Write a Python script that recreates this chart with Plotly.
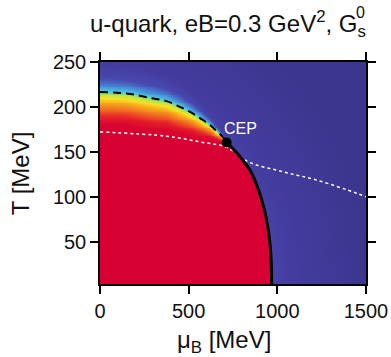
import numpy as np
import plotly.graph_objects as go

# ---------------- data ----------------
# crossover line (dashed), MeV
cross_mu = [0, 150, 282, 376, 451, 508, 564, 620, 658, 690, 714]
cross_T = [216.5, 215, 210, 206.5, 200, 194.5, 187.5, 180, 173, 167, 160.5]
# first-order line (solid)
first_mu = [714, 789, 855, 912, 946, 963, 968]
first_T = [160.5, 144.8, 126.3, 96.6, 67, 37.4, 3]
# critical end point
cep_mu = [714]
cep_T = [160.5]
# white dotted line
dot_mu = [0, 376, 564, 714, 836, 1034, 1222, 1447, 1500]
dot_T = [172.2, 167.4, 161.1, 155, 138.9, 127.8, 118.6, 104, 100]
# colour profile across crossover at mu=0 (T - T_cross -> value)
prof_off = [-60, -45, -36, -28, -20, -12, -7, -3, 1, 5, 10, 15, 25, 60]
prof_val = [0.0, 0.0, 0.03, 0.15, 0.30, 0.42, 0.50, 0.58, 0.68, 0.74, 0.80, 0.85, 0.88, 1.0]
# width of crossover vs mu (relative to mu=0)
width_mu = [0, 300, 451, 564, 658, 700, 714]
width_fac = [1.0, 0.95, 0.82, 0.6, 0.32, 0.12, 0.04]

x_ticks = [0, 500, 1000, 1500]
y_ticks = [50, 100, 150, 200, 250]

# ---------------- field on grid ----------------
mu = np.linspace(0, 1500, 452)
T = np.linspace(3, 250, 250)
M, TT = np.meshgrid(mu, T)
Tc = np.interp(M, cross_mu, cross_T)
s = np.interp(M, width_mu, width_fac)
off = (TT - Tc) / s
z_cross = np.interp(off, prof_off, prof_val)
rho = np.sqrt((M / 975.0) ** 2 + (TT / 218.0) ** 2)
z_tail = 0.87 + 0.13 * np.clip((rho - 1.0) / 0.55, 0, 1)
z = np.minimum(z_cross, z_tail)
mub = np.interp(TT, first_T[::-1], first_mu[::-1])
hi = M > 714
low = TT < 160.5
z = np.where(hi & low & (M < mub), 0.0, z)
z = np.where(hi & low & (M >= mub), z_tail, z)
z = np.where(hi & ~low, z_tail, z)

cscale = [
    [0.00, "rgb(215,0,50)"],
    [0.15, "rgb(228,30,42)"],
    [0.30, "rgb(240,100,35)"],
    [0.42, "rgb(248,170,28)"],
    [0.50, "rgb(245,225,35)"],
    [0.58, "rgb(190,230,60)"],
    [0.68, "rgb(75,200,225)"],
    [0.76, "rgb(70,140,215)"],
    [0.85, "rgb(72,72,175)"],
    [0.90, "rgb(68,60,158)"],
    [1.00, "rgb(60,54,142)"],
]

fig = go.Figure()
fig.add_trace(go.Heatmap(x=mu, y=T, z=z, colorscale=cscale, zmin=0, zmax=1,
                         showscale=False, hoverinfo="skip"))
fig.add_trace(go.Scatter(x=dot_mu, y=dot_T, mode="lines",
                         line=dict(color="white", width=1.5, dash="dot", shape="spline"),
                         showlegend=False))
fig.add_trace(go.Scatter(x=cross_mu, y=cross_T, mode="lines",
                         line=dict(color="black", width=2, dash="8px,5px", shape="spline"),
                         showlegend=False))
fig.add_trace(go.Scatter(x=first_mu, y=first_T, mode="lines",
                         line=dict(color="black", width=3, shape="spline"),
                         showlegend=False))
fig.add_trace(go.Scatter(x=cep_mu, y=cep_T, mode="markers",
                         marker=dict(color="black", size=10),
                         showlegend=False))

font = "Liberation Sans, Arial, sans-serif"
axis_common = dict(showline=True, linecolor="black", linewidth=1.5, mirror="ticks",
                   ticks="outside", ticklen=8, tickwidth=1.5, tickcolor="black",
                   showgrid=False, zeroline=False, automargin=False,
                   tickfont=dict(family=font, size=20, color="#111"))
fig.update_xaxes(range=[0, 1500], tickvals=x_ticks, **axis_common)
fig.update_yaxes(range=[3, 250], tickvals=y_ticks, **axis_common)

# axis titles
fig.add_annotation(xref="x", yref="paper", x=700, y=0, xanchor="center", yanchor="top",
                   yshift=-40, showarrow=False, text="μ<sub>B</sub> [MeV]",
                   font=dict(family=font, size=24, color="#111"))
fig.add_annotation(xref="paper", yref="paper", x=-0.30, y=0.5, xanchor="center", yanchor="middle",
                   showarrow=False, text="T [MeV]", textangle=-90,
                   font=dict(family=font, size=24, color="#111"))

fig.add_annotation(x=792, y=176, text="CEP", showarrow=False,
                   font=dict(family=font, size=16, color="white"))
fig.add_annotation(xref="paper", yref="paper", x=1, y=1, xanchor="right", yanchor="bottom",
                   xshift=2, yshift=19, showarrow=False,
                   text="u-quark, eB=0.3 GeV<sup>2</sup>, G<sub>s</sub>",
                   font=dict(family=font, size=24, color="#111"))
fig.add_annotation(xref="paper", yref="paper", x=1, y=1, xanchor="right", yanchor="bottom",
                   xshift=1, yshift=39, showarrow=False, text="0",
                   font=dict(family=font, size=16, color="#111"))

fig.update_layout(width=391, height=357, margin=dict(l=100, r=25, t=62, b=73),
                  paper_bgcolor="white", plot_bgcolor="white")
fig.write_html("out.html")
